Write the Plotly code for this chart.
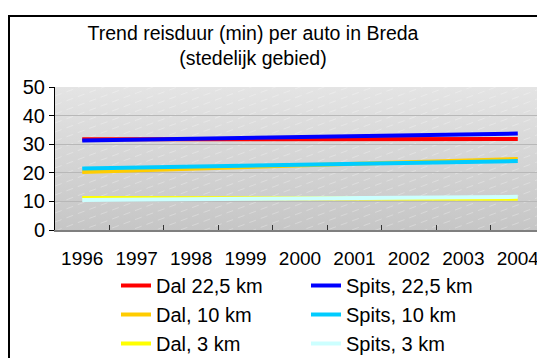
import base64
import plotly.graph_objects as go

# Travel time (minutes) by car in Breda, urban area
years = ["1996", "1997", "1998", "1999", "2000", "2001", "2002", "2003", "2004"]
trend_years = ["1996", "2004"]

dal_22_5 = [31.7, 31.8]
spits_22_5 = [31.3, 33.7]
dal_10 = [20.3, 24.8]
spits_10 = [21.5, 24.1]
dal_3 = [11.2, 10.9]
spits_3 = [10.5, 11.6]

series = [
    ("Dal 22,5 km", dal_22_5, "#ff0000"),
    ("Spits, 22,5 km", spits_22_5, "#0000ff"),
    ("Dal, 10 km", dal_10, "#ffcc00"),
    ("Spits, 10 km", spits_10, "#00ccff"),
    ("Dal, 3 km", dal_3, "#ffff00"),
    ("Spits, 3 km", spits_3, "#ccffff"),
]

FONT = "Liberation Sans, Arial, sans-serif"
W, H = 537, 358
ML, MT, MB = 55, 87, 128

# Grey gradient plot background with faint diagonal dashed hatching
pw, ph = W - ML, H - MT - MB
hatch = []
step = 9
for i in range(-60, 60):
    y0 = i * step
    hatch.append(
        f'<line x1="0" y1="{y0 + 180}" x2="{pw}" y2="{y0}" '
        'stroke="#ffffff" stroke-opacity="0.35" stroke-width="0.8" '
        'stroke-dasharray="7 5"/>'
    )
svg = (
    f'<svg xmlns="http://www.w3.org/2000/svg" width="{pw}" height="{ph}" '
    f'viewBox="0 0 {pw} {ph}" preserveAspectRatio="none">'
    '<defs><linearGradient id="g" x1="0" y1="0" x2="0" y2="1">'
    '<stop offset="0" stop-color="#e4e4e4"/>'
    '<stop offset="1" stop-color="#c6c6c6"/>'
    '</linearGradient></defs>'
    f'<rect width="{pw}" height="{ph}" fill="url(#g)"/>'
    + "".join(hatch)
    + "</svg>"
)
bg_src = "data:image/svg+xml;base64," + base64.b64encode(svg.encode()).decode()

fig = go.Figure()
for name, vals, color in series:
    fig.add_trace(
        go.Scatter(
            x=trend_years,
            y=vals,
            name=name,
            mode="lines",
            line=dict(color=color, width=4),
        )
    )

fig.update_layout(
    width=W,
    height=H,
    margin=dict(l=ML, r=0, t=MT, b=MB, autoexpand=False),
    paper_bgcolor="white",
    plot_bgcolor="rgba(0,0,0,0)",
    font=dict(family=FONT, size=19, color="black"),
    title=dict(
        text="Trend reisduur (min) per auto in Breda<br>(stedelijk gebied)",
        x=253 / W,
        xanchor="center",
        xref="container",
        y=1 - 40 / H,
        yanchor="top",
        yref="container",
        font=dict(family=FONT, size=19.5, color="black"),
    ),
    xaxis=dict(
        type="category",
        categoryorder="array",
        categoryarray=years,
        tickvals=years,
        range=[-0.5, 8.353],
        tickson="boundaries",
        ticks="inside",
        ticklen=5,
        tickcolor="#333333",
        showline=True,
        linecolor="#7f7f7f",
        linewidth=2,
        showgrid=False,
        zeroline=False,
        ticklabelstandoff=10,
        tickfont=dict(family=FONT, size=19),
    ),
    yaxis=dict(
        range=[0, 50],
        tickvals=[0, 10, 20, 30, 40, 50],
        ticks="outside",
        ticklen=5,
        tickcolor="black",
        showline=True,
        linecolor="black",
        linewidth=1,
        showgrid=True,
        gridcolor="#b8b8b8",
        gridwidth=1,
        zeroline=False,
        tickfont=dict(family=FONT, size=20),
    ),
    legend=dict(
        orientation="h",
        x=(116 - ML) / pw,
        xanchor="left",
        y=(H - MB - 266) / ph,
        yanchor="top",
        entrywidth=145,
        entrywidthmode="pixels",
        font=dict(family=FONT, size=20),
        bgcolor="rgba(0,0,0,0)",
    ),
    images=[
        dict(
            source=bg_src,
            xref="paper",
            yref="paper",
            x=0,
            y=1,
            sizex=(545 - ML) / pw,
            sizey=1,
            sizing="stretch",
            layer="below",
        )
    ],
    shapes=[
        # chart area frame
        dict(
            type="rect",
            xref="paper",
            yref="paper",
            x0=(9 - ML) / pw,
            x1=(W + 20 - ML) / pw,
            y0=(H - MB - H - 20) / ph,
            y1=(H - MB - 16) / ph,
            line=dict(color="black", width=2),
            fillcolor="rgba(0,0,0,0)",
            layer="below",
        )
    ],
)

fig.write_html("out.html")
